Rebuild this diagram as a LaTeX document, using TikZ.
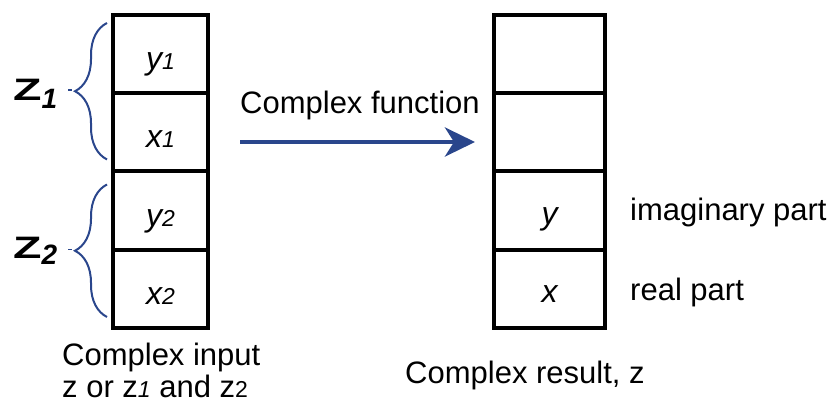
\documentclass[tikz,border=0pt]{standalone}
\usepackage{graphicx}
\usepackage{fontspec}
\setmainfont{Liberation Sans}
\usetikzlibrary{arrows.meta,positioning,decorations.pathreplacing}
\definecolor{hpblue}{RGB}{42,70,140}
\newcommand{\smalldigit}[1]{{\fontsize{23}{23}\selectfont #1}}

\begin{document}
\begin{tikzpicture}[x=1pt,y=-1pt,
  >=Stealth,
  cell/.style={draw,line width=4pt,minimum height=78.25pt,inner sep=0pt,outer sep=0pt,
    text height=31pt,text depth=0pt,font=\fontsize{32}{32}\selectfont\itshape},
  incell/.style={cell,minimum width=95pt},
  outcell/.style={cell,minimum width=111.5pt,text height=28pt},
  label/.style={anchor=base west,inner sep=0pt,font=\fontsize{31}{31}\selectfont},
  brace/.style={decorate,decoration={brace,amplitude=32pt},draw=hpblue,line width=2pt},
  tipdash/.style={draw=hpblue,line width=1.5pt},
  flow/.style={-{Stealth[length=30pt,width=29pt,inset=9pt]},line width=4.5pt,draw=hpblue}
]
  \useasboundingbox (0,0) rectangle (835,408);

  % input stack
  \node[incell] (y1) at (160.5,54.1) {y\smalldigit{1}};
  \node[incell,below=0pt of y1] (x1) {x\smalldigit{1}};
  \node[incell,below=0pt of x1] (y2) {y\smalldigit{2}};
  \node[incell,below=0pt of y2] (x2) {x\smalldigit{2}};

  % result stack
  \node[outcell] (r1) at (549.7,54.1) {};
  \node[outcell,below=0pt of r1] (r2) {};
  \node[outcell,below=0pt of r2] (yres) {y};
  \node[outcell,below=0pt of yres] (xres) {x};

  % braces for z1 and z2
  \draw[brace] ([xshift=-6pt,yshift=12pt]x1.south west) -- ([xshift=-6pt,yshift=-8pt]y1.north west);
  \draw[brace] ([xshift=-6pt,yshift=11pt]x2.south west) -- ([xshift=-6pt,yshift=-13pt]y2.north west);
  \coordinate (z1tip) at (75,90);
  \coordinate (z2tip) at (75,249.5);
  \draw[tipdash] ([xshift=-7pt]z1tip) -- ([xshift=-3pt]z1tip);
  \draw[tipdash] ([xshift=-7pt]z2tip) -- ([xshift=-3pt]z2tip);
  \node[label] (z1lab) at (13,100) {\bfseries\scalebox{1.5}[1]{Z}\raisebox{-8pt}{\fontsize{28}{28}\selectfont\itshape 1}};
  \node[label] (z2lab) at (13,258) {\bfseries\scalebox{1.5}[1]{Z}\raisebox{-6pt}{\fontsize{28}{28}\selectfont\itshape 2}};

  % function arrow
  \coordinate (fnstart) at (240,142);
  \coordinate (fnend) at (475,142);
  \draw[flow] (fnstart) -- (fnend);
  \node[label] (fnlab) at (240,113) {Complex function};

  % texts
  \node[label] (imlab) at (630,220) {imaginary part};
  \node[label] (relab) at (630,300) {real part};
  \node[label] (inlab) at (62,365) {Complex input};
  \node[label] (inlab2) at (62,397) {z or z\smalldigit{\itshape 1} and z\smalldigit{2}};
  \node[label] (reslab) at (405,383) {Complex result, z};
\end{tikzpicture}
\end{document}
